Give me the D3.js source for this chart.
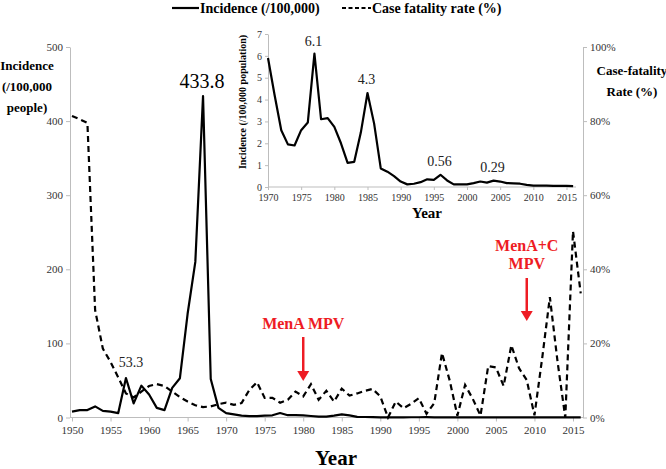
<!DOCTYPE html>
<html><head><meta charset="utf-8">
<script src="https://cdn.jsdelivr.net/npm/d3@7/dist/d3.min.js"></script>
<style>body{margin:0;background:#fff}svg{display:block}</style>
</head><body><svg id="c" width="666" height="469"></svg>
<script>
const years = d3.range(1950, 2017);
const incidence = [8,10,10,15,9,8,6,53.3,19,43,31,13,10,40,53,140,210,433.8,52,13,
 5.9,4.2,2.6,1.95,1.9,2.6,2.95,6.1,3.1,3.15,2.75,2.0,1.1,1.15,2.5,4.3,2.9,0.85,0.7,0.5,
 0.25,0.12,0.15,0.22,0.35,0.33,0.56,0.3,0.12,0.12,0.12,0.18,0.25,0.2,0.29,0.25,0.18,0.17,0.15,0.1,
 0.06,0.06,0.06,0.05,0.05,0.05,0.04];
const cfr = [81.4,80.5,79.5,29,18.6,15,10.8,6.5,5.4,7,8.5,9,8.5,7,5.5,4.3,3.3,2.8,3,3.6,
 4,3.4,3.9,7.4,9.5,5.3,5.3,4,4.8,7,5.7,9,4.8,7.2,4.3,7.8,5.9,6.5,7.2,7.7,
 5.7,0,4.3,2.5,3.7,5.2,1,3.9,17.4,10,0.5,8.8,5,0.5,13.9,13.5,8.5,19.5,13.3,10.1,
 0.6,16,32.5,15,0,50.3,33.5];
const insetYears = d3.range(1970, 2017);
const insetIncidence = incidence.slice(20);
const xTicks = d3.range(1950, 2016, 5);
const leftTicks = [0,100,200,300,400,500];
const rightTicks = [0,20,40,60,80,100];
const insetXTicks = d3.range(1970, 2016, 5);
const insetYTicks = [0,1,2,3,4,5,6,7];
const peakLabels = [{year:1967,val:433.8,text:"433.8"},{year:1957,val:53.3,text:"53.3"}];
const insetLabels = [{year:1977,text:"6.1"},{year:1985,text:"4.3"},{year:1996,text:"0.56"},{year:2004,text:"0.29"}];
const vaccines = [{year:1980,lines:["MenA MPV"]},{year:2009,lines:["MenA+C","MPV"]}];

const FONT = "'Liberation Serif', 'Times New Roman', 'DejaVu Serif', serif";
const svg = d3.select("#c");
const x = d3.scaleLinear().domain([1950, 2015]).range([72, 573]);
const yL = d3.scaleLinear().domain([0, 500]).range([417.5, 47]);
const yR = d3.scaleLinear().domain([0, 100]).range([417.5, 47]);
const axisCol = "#bdbdbd", textCol = "#333";

function styleAxis(g, fs){
  g.attr("font-family", null);
  g.selectAll("path,line").attr("stroke", axisCol);
  g.selectAll("text").attr("fill", textCol).style("font-size", fs+"px");
}
// main axes
svg.append("g").attr("transform","translate(0,417.5)")
  .call(d3.axisBottom(x).tickValues(xTicks).tickFormat(d3.format("d")).tickSize(4).tickSizeOuter(0).tickPadding(5))
  .call(g=>{g.select(".domain").attr("d","M70,0H583"); styleAxis(g, 11);});
svg.append("g").attr("transform","translate(70,0)")
  .call(d3.axisLeft(yL).tickValues(leftTicks).tickSize(4).tickSizeOuter(0).tickPadding(3))
  .call(g=>styleAxis(g, 11));
svg.append("g").attr("transform","translate(583,0)")
  .call(d3.axisRight(yR).tickValues(rightTicks).tickFormat(d=>d+"%").tickSize(4).tickSizeOuter(0).tickPadding(3))
  .call(g=>styleAxis(g, 11));

// main lines
svg.append("path").datum(years.map((y,i)=>[y,incidence[i]]))
  .attr("fill","none").attr("stroke","#000").attr("stroke-width",2.2).attr("stroke-linejoin","round")
  .attr("d", d3.line().x(d=>x(d[0])).y(d=>yL(d[1])));
svg.append("path").datum(years.map((y,i)=>[y,cfr[i]]))
  .attr("fill","none").attr("stroke","#000").attr("stroke-width",2.2).attr("stroke-dasharray","6,4")
  .attr("d", d3.line().x(d=>x(d[0])).y(d=>yR(d[1])));

// peak labels
svg.append("text").attr("x", 202).attr("y", 88).attr("text-anchor","middle")
  .style("font-size","20px").text(peakLabels[0].text);
svg.append("text").attr("x", 131).attr("y", 367).attr("text-anchor","middle")
  .attr("fill","#222").style("font-size","14px").text(peakLabels[1].text);

// vaccine annotations
const red = "#ee1c24";
vaccines.forEach((v,k)=>{
  const cx = x(v.year);
  const top = k===0 ? 329 : 251;
  v.lines.forEach((t,j)=>svg.append("text").attr("x",cx).attr("y",top+j*18).attr("text-anchor","middle")
    .attr("fill",red).style("font-weight","bold").style("font-size","16px").text(t));
  const a0 = k===0 ? 337 : 278, a1 = k===0 ? 381 : 321;
  svg.append("line").attr("x1",cx).attr("x2",cx).attr("y1",a0).attr("y2",a1-8).attr("stroke",red).attr("stroke-width",2.5);
  svg.append("path").attr("d",`M${cx-6},${a1-10}L${cx+6},${a1-10}L${cx},${a1}Z`).attr("fill",red);
});

// axis titles
svg.append("text").attr("x",336).attr("y",465).attr("text-anchor","middle").style("font-weight","bold").style("font-size","21px").text("Year");
["Incidence","(/100,000","people)"].forEach((t,i)=>svg.append("text").attr("x",27).attr("y",70+i*21).attr("text-anchor","middle")
  .style("font-weight","bold").style("font-size","13px").text(t));
["Case-fatality","Rate (%)"].forEach((t,i)=>svg.append("text").attr("x",632).attr("y",75+i*21).attr("text-anchor","middle")
  .style("font-weight","bold").style("font-size","13px").text(t));

// legend
svg.append("line").attr("x1",172).attr("x2",199).attr("y1",8).attr("y2",8).attr("stroke","#000").attr("stroke-width",2.2);
svg.append("text").attr("x",200).attr("y",13).style("font-weight","bold").style("font-size","14px").text("Incidence (/100,000)");
svg.append("line").attr("x1",342).attr("x2",371).attr("y1",8).attr("y2",8).attr("stroke","#000").attr("stroke-width",2.2).attr("stroke-dasharray","4,2.5");
svg.append("text").attr("x",372).attr("y",13).style("font-weight","bold").style("font-size","14px").text("Case fatality rate (%)");

// inset
const ix = d3.scaleLinear().domain([1970, 2015]).range([268, 566.5]);
const iy = d3.scaleLinear().domain([0, 7]).range([187, 34]);
svg.append("g").attr("transform","translate(0,187)")
  .call(d3.axisBottom(ix).tickValues(insetXTicks).tickFormat(d3.format("d")).tickSize(3).tickSizeOuter(0).tickPadding(4))
  .call(g=>{g.select(".domain").attr("d","M268,0H576"); styleAxis(g, 10);});
svg.append("g").attr("transform","translate(268,0)")
  .call(d3.axisLeft(iy).tickValues(insetYTicks).tickFormat(d3.format("d")).tickSize(3).tickSizeOuter(0).tickPadding(3))
  .call(g=>styleAxis(g, 10));
svg.append("path").datum(insetYears.map((y,i)=>[y,insetIncidence[i]]))
  .attr("fill","none").attr("stroke","#000").attr("stroke-width",2.2).attr("stroke-linejoin","round")
  .attr("d", d3.line().x(d=>ix(d[0])).y(d=>iy(d[1])));
const ilY = {1977:46,1985:84,1996:166,2004:172};
insetLabels.forEach(l=>svg.append("text").attr("x",ix(l.year)-1).attr("y",ilY[l.year]).attr("text-anchor","middle")
  .style("font-size","14px").attr("fill","#222").text(l.text));
svg.append("text").attr("x",427).attr("y",218).attr("text-anchor","middle").style("font-weight","bold").style("font-size","15px").text("Year");
svg.append("text").attr("transform","translate(246,102) rotate(-90)").attr("text-anchor","middle")
  .style("font-weight","bold").style("font-size","10px").text("Incidence (/100,000 population)");

svg.selectAll("text").style("font-family", FONT);
</script></body></html>
